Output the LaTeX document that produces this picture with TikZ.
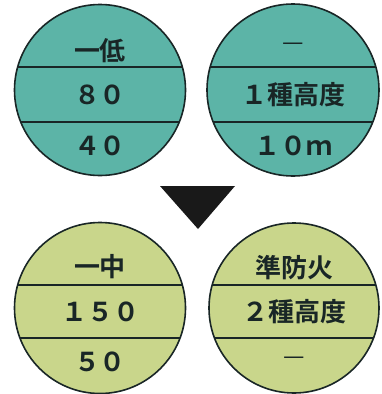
\documentclass[tikz,border=0pt]{standalone}
\usepackage{fontspec}
\newfontfamily\jp{Noto Sans CJK JP Bold}
\newfontfamily\jpm{Noto Sans CJK JP}
\definecolor{teal1}{RGB}{92,180,167}
\definecolor{green1}{RGB}{201,214,139}
\definecolor{edge}{RGB}{25,38,38}
\tikzset{
  lbl/.style={font=\jp\fontsize{26}{26}\selectfont, text=edge, inner sep=0pt, anchor=center},
  dashlbl/.style={font=\jpm\fontsize{24}{24}\selectfont, text=edge, inner sep=0pt, anchor=center},
  rim/.style={draw=edge, line width=1.6pt},
  sep/.style={draw=edge, line width=1.6pt},
}
\begin{document}
\begin{tikzpicture}[x=1pt,y=-1pt]
\useasboundingbox (0,0) rectangle (381,394);
\clip (0,0) rectangle (381,394);
\fill[white] (0,0) rectangle (381,394);
% top-left
\fill[teal1] (100,90) circle (85.5);
\begin{scope}
  \clip (100,90) circle (85.5);
  \draw[sep] (0,67) -- (200,67);
  \draw[sep] (0,122) -- (200,122);
\end{scope}
\draw[rim] (100,90) circle (85.5);
\node[lbl] (a1) at (100,51) {一低};
\node[lbl] (a2) at (100,95) {８０};
\node[lbl] (a3) at (100,146) {４０};
% top-right
\fill[teal1] (293,90) circle (86);
\begin{scope}
  \clip (293,90) circle (86);
  \draw[sep] (200,67) -- (381,67);
  \draw[sep] (200,122) -- (381,122);
\end{scope}
\draw[rim] (293,90) circle (86);
\node[dashlbl] (b1) at (293,47) {—};
\node[lbl] (b2) at (293,95) {１種高度};
\node[lbl] (b3) at (293,146) {１０ｍ};
% arrow
\fill[black!90] (160,186) -- (235,186) -- (198,229) -- cycle;
% bottom-left
\fill[green1] (100,308) circle (85.5);
\begin{scope}
  \clip (100,308) circle (85.5);
  \draw[sep] (0,285) -- (200,285);
  \draw[sep] (0,338) -- (200,338);
\end{scope}
\draw[rim] (100,308) circle (85.5);
\node[lbl] (c1) at (100,267) {一中};
\node[lbl] (c2) at (100,312) {１５０};
\node[lbl] (c3) at (100,362) {５０};
% bottom-right
\fill[green1] (294,308) circle (85);
\begin{scope}
  \clip (294,308) circle (85);
  \draw[sep] (200,285) -- (381,285);
  \draw[sep] (200,338) -- (381,338);
\end{scope}
\draw[rim] (294,308) circle (85);
\node[lbl] (d1) at (294,268) {準防火};
\node[lbl] (d2) at (294,312) {２種高度};
\node[dashlbl] (d3) at (294,361) {—};
\end{tikzpicture}
\end{document}
